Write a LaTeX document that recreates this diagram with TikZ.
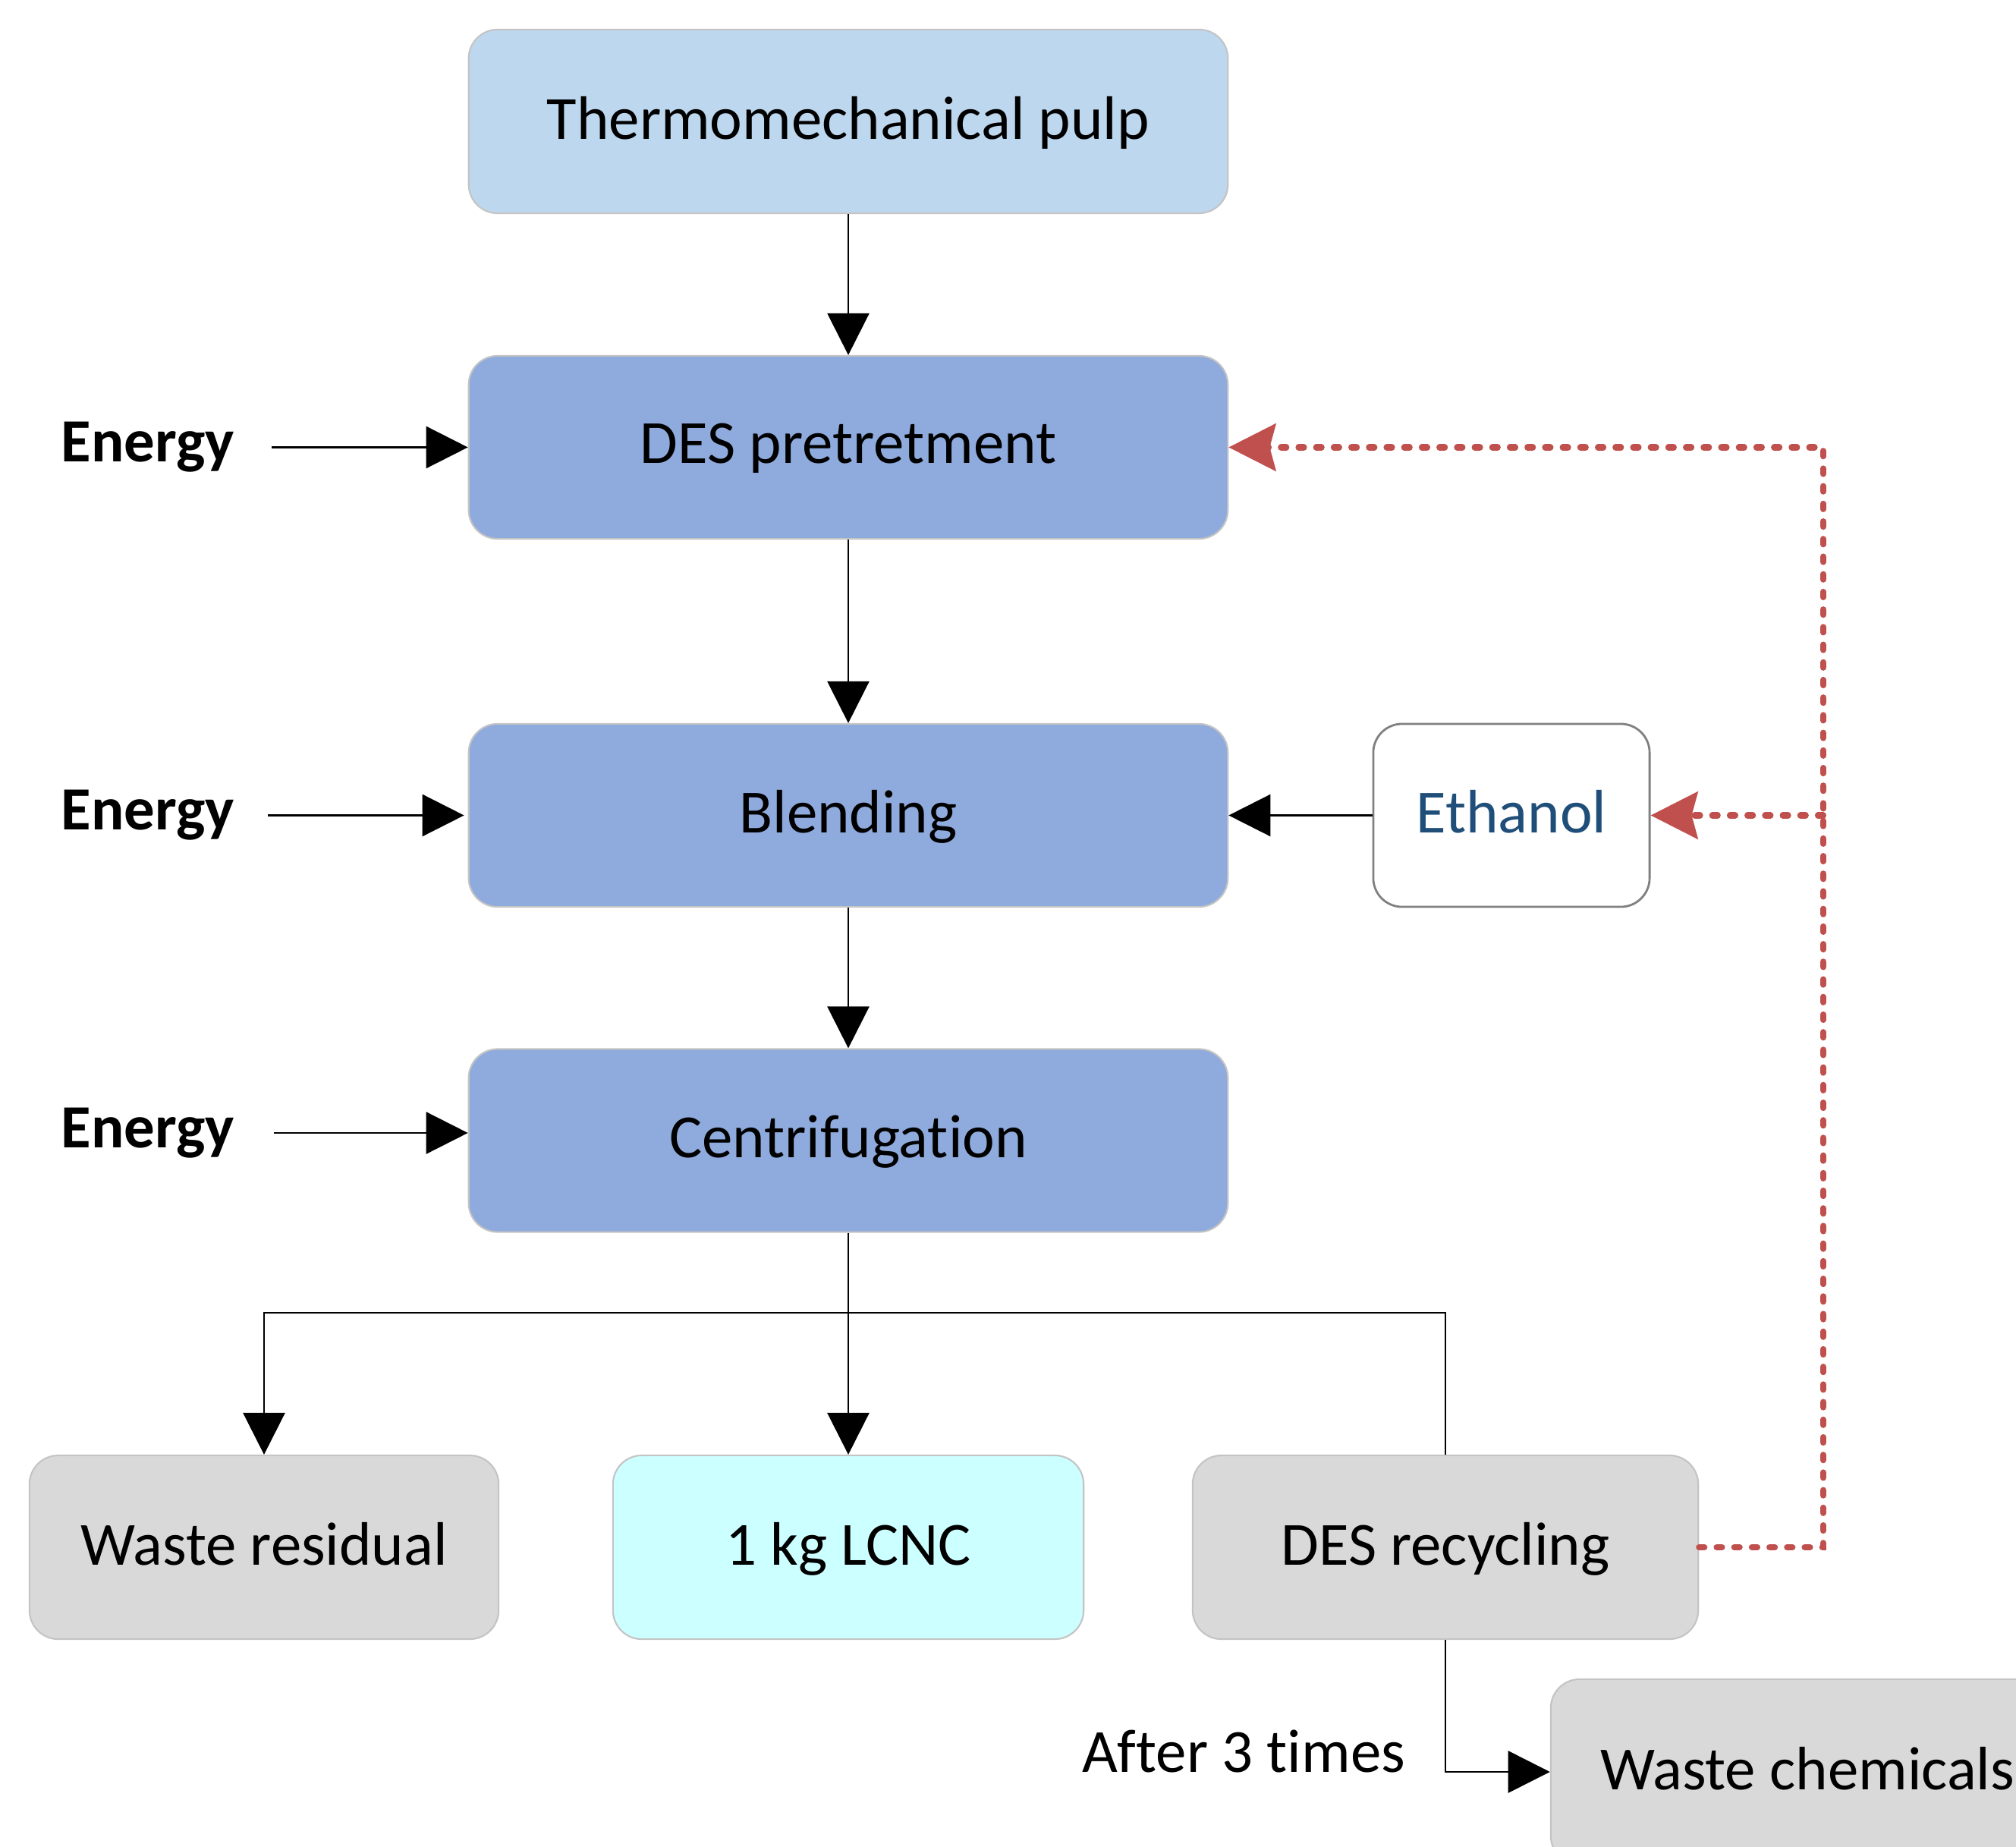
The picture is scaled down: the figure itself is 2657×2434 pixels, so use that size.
\documentclass[tikz,border=0pt]{standalone}
\usepackage{fontspec}
\setmainfont{Carlito}[Ligatures={NoCommon}]
\usetikzlibrary{arrows.meta,positioning,calc}
\definecolor{tmpfill}{HTML}{BDD7EE}
\definecolor{procfill}{HTML}{8FAADC}
\definecolor{grayfill}{HTML}{D9D9D9}
\definecolor{cyanfill}{HTML}{CCFFFF}
\definecolor{boxline}{HTML}{C4C4C4}
\definecolor{ethline}{HTML}{808080}
\definecolor{ethtext}{HTML}{1F4E79}
\definecolor{recred}{HTML}{C0504D}
\tikzset{
  basebox/.style={rectangle, rounded corners=0.38cm, draw=boxline, line width=0.6pt, inner sep=0pt,
    font=\fontsize{23}{28}\selectfont, align=center, text depth=0.1cm},
  mainbox/.style={basebox, fill=procfill, minimum width=10cm, minimum height=2.41cm},
  tmpbox/.style={basebox, fill=tmpfill, minimum width=10cm, minimum height=2.42cm},
  graybox/.style={basebox, fill=grayfill, minimum height=2.42cm},
  lcncbox/.style={basebox, fill=cyanfill, minimum height=2.42cm},
  ethbox/.style={basebox, fill=white, draw=ethline, line width=0.8pt, text=ethtext, minimum width=3.64cm, minimum height=2.41cm},
  energylbl/.style={font=\fontsize{23}{28}\selectfont\bfseries, inner sep=0pt},
  plainlbl/.style={font=\fontsize{23}{28}\selectfont, inner sep=0pt},
  arr/.style={line width=0.75pt, -{Triangle[length=0.55cm,width=0.55cm]}},
  plainline/.style={line width=0.75pt},
  recline/.style={draw=recred, line width=2.3pt, line cap=round, dash pattern=on 2pt off 4.6pt},
  rectip/.style={-{Stealth[length=0.62cm,width=0.62cm,inset=0.08cm,color=recred]}},
}
\begin{document}
\begin{tikzpicture}[x=0.01cm,y=-0.01cm]
\useasboundingbox (0,0) rectangle (2657,2434);
\clip (0,0) rectangle (2657,2434);
\fill[white] (0,0) rectangle (2657,2434);

\node[tmpbox] (tmp) at (1118,160) {Thermomechanical pulp};
\node[mainbox] (des) at (1118,589.5) {DES pretretment};
\node[mainbox] (blend) at (1118,1074.5) {Blending};
\node[mainbox] (centr) at (1118,1503) {Centrifugation};
\node[ethbox] (eth) at (1992,1074.5) {Ethanol};

\node[graybox, minimum width=6.18cm] (wr) at (348,2039) {Waste residual};
\node[lcncbox, minimum width=6.20cm] (lcnc) at (1118,2039) {1 kg LCNC};
\node[graybox, minimum width=6.66cm] (desr) at (1905,2039) {DES recycling};
\node[graybox, minimum width=6.76cm, minimum height=2.44cm] (wc) at (2382,2335) {Waste chemicals};

\node[energylbl] (e1) at (195,589.5) {Energy};
\node[energylbl] (e2) at (195,1074.5) {Energy};
\node[energylbl] (e3) at (195,1493) {Energy};
\node[plainlbl] (after) at (1639,2308) {After 3 times};

\coordinate (j) at (1118,1730);
\coordinate (rt) at (2403,589.5);
\coordinate (rm) at (2403,1074.5);
\coordinate (wcturn) at (1905,2335);

% main flow
\draw[arr] (tmp.south) -- (des.north);
\draw[arr] (des.south) -- (blend.north);
\draw[arr] (blend.south) -- (centr.north);
\draw[arr] (centr.south) -- (lcnc.north);
\draw[arr] (j) -| (wr.north);
\draw[plainline] (j) -| (desr.north);
\draw[arr] (eth.west) -- (blend.east);

% energy inputs
\draw[arr, shorten <=0.48cm] (e1.east) -- (e1.east -| des.west);
\draw[arr, shorten <=0.43cm] (e2.east) -- ([xshift=-0.05cm]e2.east -| blend.west);
\draw[arr, shorten <=0.51cm] (e3.east) -- (e3.east -| centr.west);

% waste chemicals
\draw[arr] (desr.south) -- (wcturn) -- (wc.west);

% recycling loop
\draw[recline, rectip] (desr.east) -| (rt) -- (des.east);
\draw[recline, rectip] (rm) -- (eth.east);
\end{tikzpicture}
\end{document}
